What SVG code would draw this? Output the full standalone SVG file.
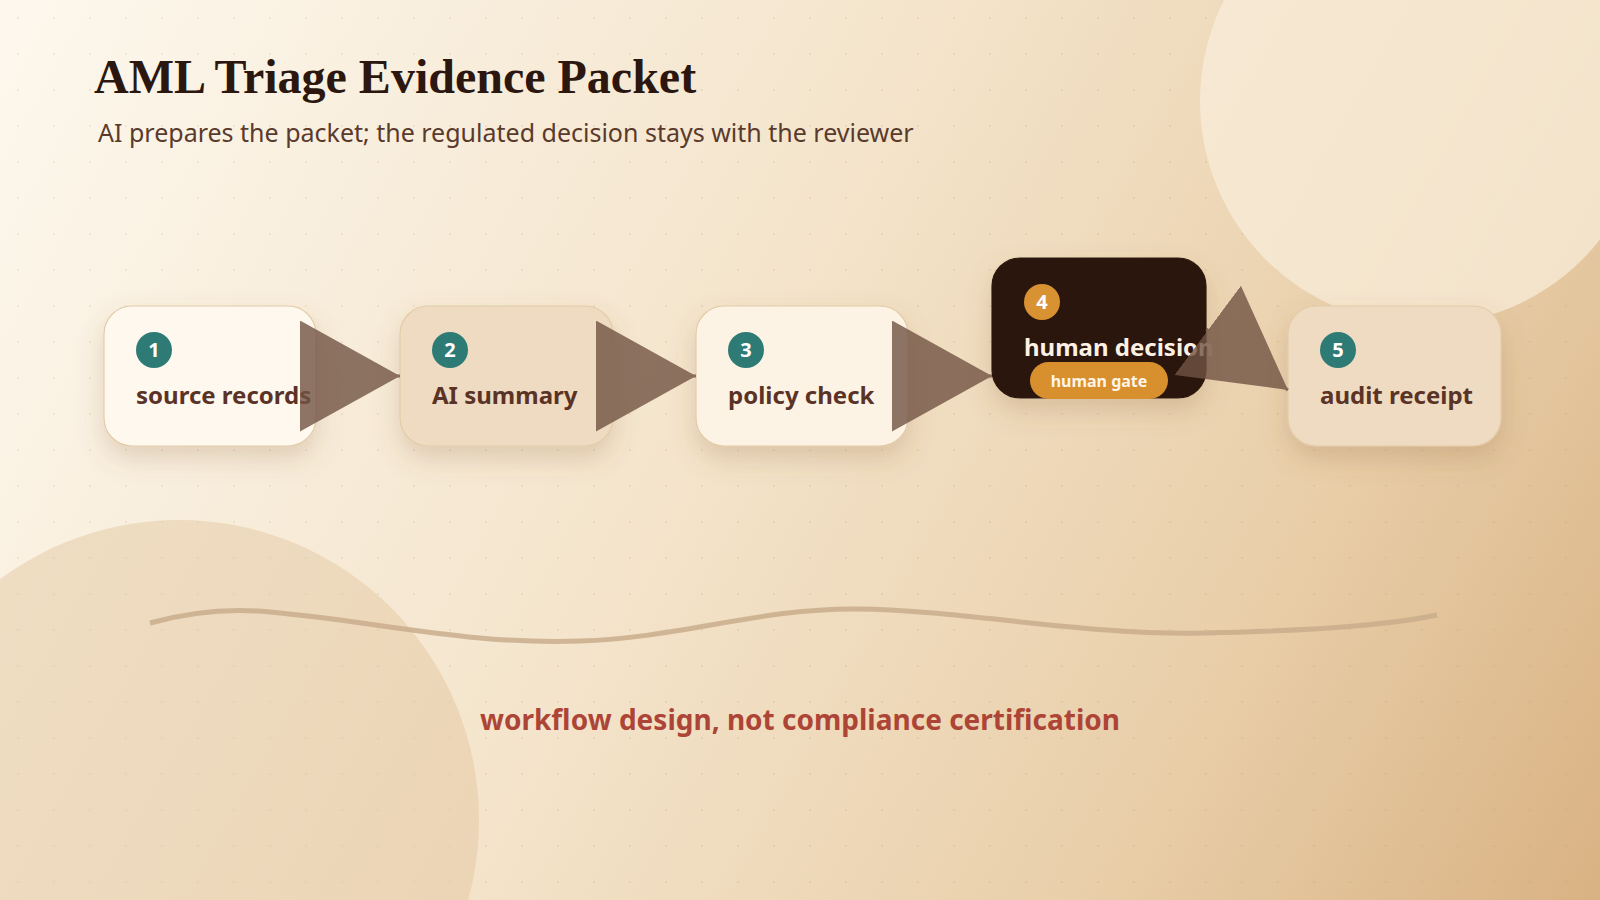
<svg xmlns="http://www.w3.org/2000/svg" width="1600" height="900" viewBox="0 0 1600 900">
  <defs>
    <linearGradient id="bg" x1="0" y1="0" x2="1600" y2="900" gradientUnits="userSpaceOnUse">
      <stop offset="0" stop-color="#fdf8ee"/>
      <stop offset="0.45" stop-color="#f4e4cb"/>
      <stop offset="0.75" stop-color="#e9cfaa"/>
      <stop offset="1" stop-color="#d9b283"/>
    </linearGradient>
    <pattern id="dots" width="36" height="36" patternUnits="userSpaceOnUse">
      <circle cx="18" cy="18" r="1" fill="#b08660" fill-opacity="0.18"/>
    </pattern>
    <filter id="shadow" x="-20%" y="-20%" width="140%" height="160%">
      <feDropShadow dx="0" dy="12" stdDeviation="13" flood-color="#8a5a30" flood-opacity="0.22"/>
    </filter>
    <marker id="arrow" markerUnits="userSpaceOnUse" markerWidth="100" markerHeight="111" refX="100" refY="55.5" orient="auto" viewBox="0 0 100 111">
      <path d="M0,0 L100,55.5 L0,111 Z" fill="#725444"/>
    </marker>
    <style>
      .node { stroke: #e4cba8; stroke-width: 1.2; filter: url(#shadow); }
      .light { fill: #fef8ee; }
      .tan { fill: #eedbc1; }
      .dark { fill: #2c1810; stroke: #2c1810; }
      .badge { fill: #2e7b76; }
      .badge-gold { fill: #d99232; }
      .num { font-family: "Noto Sans", "DejaVu Sans", sans-serif; font-weight: 700; font-size: 20px; fill: #ffffff; text-anchor: middle; }
      .label { font-family: "Noto Sans", "DejaVu Sans", sans-serif; font-weight: 700; font-size: 24px; fill: #5a3326; }
      .label-light { fill: #fcf1e2; }
      .conn { stroke: #725444; stroke-width: 3; fill: none; marker-end: url(#arrow); }
    </style>
  </defs>

  <rect x="0" y="0" width="1600" height="900" fill="url(#bg)"/>
  <rect x="0" y="0" width="1600" height="900" fill="url(#dots)"/>
  <circle cx="1424" cy="101" r="224" fill="#f8ecda" fill-opacity="0.75"/>
  <circle cx="179" cy="820" r="300" fill="#e0c098" fill-opacity="0.42"/>

  <text x="94" y="93" font-family="Liberation Serif, Times New Roman, serif" font-weight="700" font-size="48" fill="#2b170f">AML Triage Evidence Packet</text>
  <text x="98" y="142" font-family="Noto Sans, DejaVu Sans, sans-serif" font-size="25" fill="#5a3a2c">AI prepares the packet; the regulated decision stays with the reviewer</text>

  <path d="M150,623 C190,612 230,608 270,612 C380,622 470,645 580,641 C680,638 760,608 857,609 C960,610 1090,636 1204,633 C1310,631 1390,625 1437,615" fill="none" stroke="#c9ad8c" stroke-opacity="0.85" stroke-width="5"/>

  <g id="node-1">
    <rect class="node light" x="104" y="306" width="212" height="140" rx="28"/>
    <circle class="badge" cx="154" cy="350" r="18"/>
    <text class="num" x="154" y="357">1</text>
    <text class="label" x="136" y="404">source records</text>
  </g>
  <g id="node-2">
    <rect class="node tan" x="400" y="306" width="213" height="140" rx="28"/>
    <circle class="badge" cx="450" cy="350" r="18"/>
    <text class="num" x="450" y="357">2</text>
    <text class="label" x="432" y="404">AI summary</text>
  </g>
  <g id="node-3">
    <rect class="node light" x="696" y="306" width="212" height="140" rx="28" style="fill:#fdf3e4"/>
    <circle class="badge" cx="746" cy="350" r="18"/>
    <text class="num" x="746" y="357">3</text>
    <text class="label" x="728" y="404">policy check</text>
  </g>
  <g id="node-4">
    <rect class="node dark" x="992" y="258" width="214" height="140" rx="28"/>
    <circle class="badge-gold" cx="1042" cy="302" r="18"/>
    <text class="num" x="1042" y="309">4</text>
    <text class="label label-light" x="1024" y="356">human decision</text>
    <rect x="1030" y="362" width="138" height="37" rx="18.5" fill="#d88f2e"/>
    <text x="1099" y="387" font-family="Noto Sans, DejaVu Sans, sans-serif" font-weight="700" font-size="16" fill="#fff5e6" text-anchor="middle">human gate</text>
  </g>
  <g id="node-5">
    <rect class="node tan" x="1288" y="306" width="213" height="140" rx="28"/>
    <circle class="badge" cx="1338" cy="350" r="18"/>
    <text class="num" x="1338" y="357">5</text>
    <text class="label" x="1320" y="404">audit receipt</text>
  </g>

  <g id="connectors" opacity="0.8">
    <path class="conn" d="M316,376 L400,376"/>
    <path class="conn" d="M613,376 L696,376"/>
    <path class="conn" d="M908,376 L992,376"/>
    <path class="conn" d="M1206,329 L1288,390"/>
  </g>

  <text x="800" y="730" font-family="Noto Sans, DejaVu Sans, sans-serif" font-weight="700" font-size="28" fill="#ad4537" text-anchor="middle">workflow design, not compliance certification</text>
</svg>
